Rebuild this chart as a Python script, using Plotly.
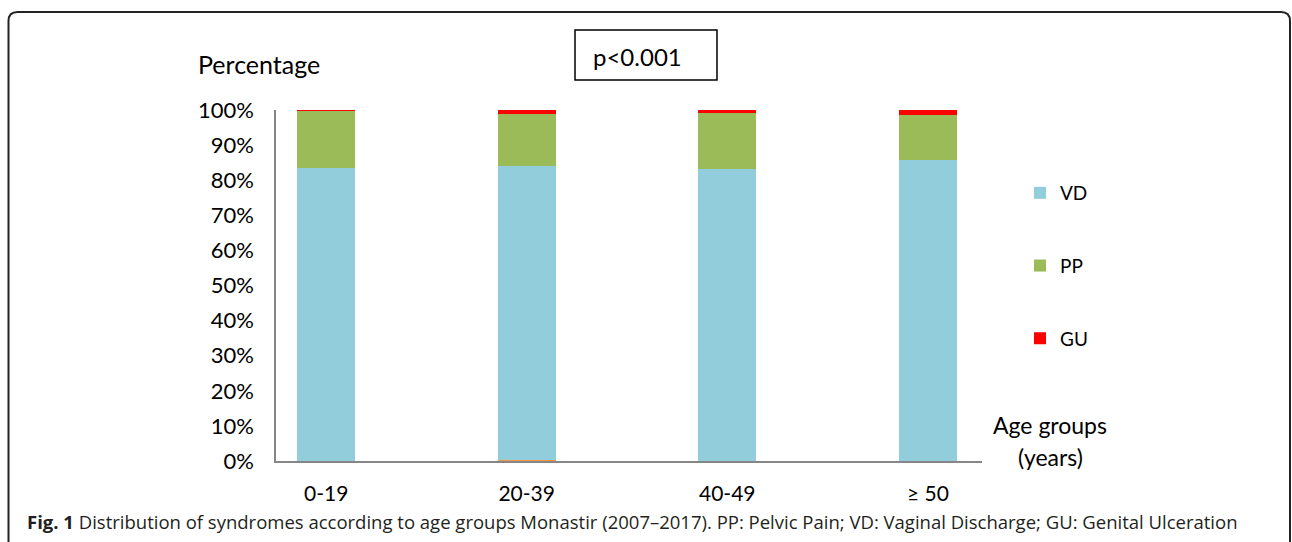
import plotly.graph_objects as go

W, H = 1292, 542

# Age groups and share (%) of each syndrome per group
age_groups = ["0-19", "20-39", "40-49", "≥ 50"]
other = [0.1, 0.3, 0.1, 0.1]
vd = [83.4, 83.7, 83.1, 85.7]
pp = [16.3, 15.0, 15.9, 12.9]
gu = [0.2, 1.0, 0.9, 1.3]
y_ticks = [0, 10, 20, 30, 40, 50, 60, 70, 80, 90, 100]
y_tick_labels = ["0%", "10%", "20%", "30%", "40%", "50%",
                 "60%", "70%", "80%", "90%", "100%"]

AXIS_FONT = "Lato, Calibri, Carlito, sans-serif"
BLACK = "#000000"

def px(x):
    return x / W

def py(y):
    return 1 - y / H

fig = go.Figure()
fig.add_trace(go.Bar(x=age_groups, y=other, marker_color="#F79646",
                     showlegend=False, width=0.29, hoverinfo="skip"))
fig.add_trace(go.Bar(x=age_groups, y=vd, name="VD", marker_color="#92CDDC",
                     legendgroup="VD", width=0.29))
fig.add_trace(go.Bar(x=age_groups, y=pp, name="PP", marker_color="#9BBB59",
                     legendgroup="PP", width=0.29))
fig.add_trace(go.Bar(x=age_groups, y=gu, name="GU", marker_color="#FF0000",
                     legendgroup="GU", width=0.29))
for t in fig.data:
    t.marker.line.width = 0

fig.update_layout(
    template="none",
    width=W, height=H,
    barmode="stack",
    margin=dict(l=0, r=0, t=0, b=0, pad=0),
    paper_bgcolor="white", plot_bgcolor="white",
    font=dict(family=AXIS_FONT, size=21, color=BLACK),
    xaxis=dict(
        domain=[px(276), px(982)],
        range=[-0.25, 3.27],
        automargin=False,
        showline=True, linecolor="#868686", linewidth=1.5,
        showgrid=False, zeroline=False, ticks="", ticklabelstandoff=13,
        tickfont=dict(family=AXIS_FONT, size=21, color=BLACK),
        fixedrange=True,
    ),
    yaxis=dict(
        domain=[py(461), py(110)],
        range=[0, 100],
        automargin=False,
        tickmode="array", tickvals=y_ticks, ticktext=y_tick_labels,
        showline=True, linecolor="#868686", linewidth=1.5,
        showgrid=False, ticks="", ticklabelstandoff=16,
        tickfont=dict(family=AXIS_FONT, size=22, color=BLACK),
        zeroline=False, fixedrange=True,
    ),
    legend=dict(
        x=px(1020), xanchor="left",
        y=py(174), yanchor="top",
        traceorder="grouped", tracegroupgap=45,
        font=dict(family=AXIS_FONT, size=19, color=BLACK),
        bgcolor="rgba(0,0,0,0)", borderwidth=0,
    ),
    showlegend=True,
)

# Rounded frame around the figure
r = 9
x0, x1 = 8.5, 1290
y0 = 12
frame = (
    f"M {px(x0)},{py(H + 5)} L {px(x0)},{py(y0 + r)} "
    f"Q {px(x0)},{py(y0)} {px(x0 + r)},{py(y0)} "
    f"L {px(x1 - r)},{py(y0)} "
    f"Q {px(x1)},{py(y0)} {px(x1)},{py(y0 + r)} "
    f"L {px(x1)},{py(H + 5)}"
)
fig.add_shape(type="path", xref="paper", yref="paper", path=frame,
              line=dict(color="#222222", width=2))

# Significance box
fig.add_shape(type="rect", xref="paper", yref="paper",
              x0=px(575), x1=px(717), y0=py(80), y1=py(30),
              line=dict(color=BLACK, width=1.5))

def label(x, y, text, size, xanchor="center", family=AXIS_FONT, color=BLACK):
    fig.add_annotation(x=px(x), y=py(y), xref="paper", yref="paper",
                       xanchor=xanchor, yanchor="middle", text=text,
                       showarrow=False,
                       font=dict(family=family, size=size, color=color))

label(637, 56, "p&lt;0.001", 24)

# Axis titles
label(196, 64, "Percentage", 25, xanchor="left")
label(1050, 425, "Age groups", 23)
label(1050, 457, "(years)", 23)

# Caption
label(25, 521,
      "<b>Fig. 1</b> Distribution of syndromes according to age groups Monastir "
      "(2007–2017). PP: Pelvic Pain; VD: Vaginal Discharge; GU: Genital Ulceration",
      18.5, xanchor="left", family="Open Sans, Noto Sans, sans-serif",
      color="#231F20")

fig.write_html("out.html")
